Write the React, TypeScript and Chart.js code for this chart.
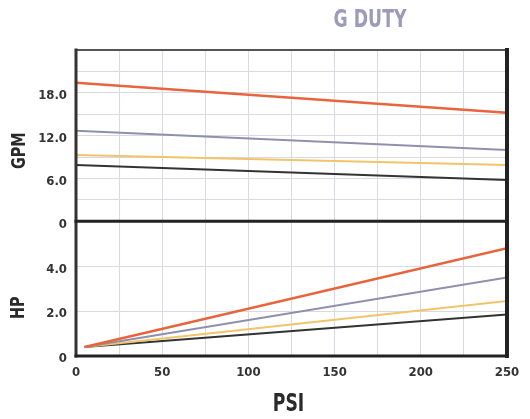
import React, { useEffect, useRef } from "react";
import { Chart, registerables } from "chart.js";

Chart.register(...registerables);

const psiFlow = [0, 250];
const psiPower = [5, 250];

const gpmOrange = [19.4, 15.2];
const gpmBlue = [12.7, 10.0];
const gpmYellow = [9.3, 7.9];
const gpmBlack = [7.9, 5.8];

const hpOrange = [0.4, 4.8];
const hpBlue = [0.4, 3.5];
const hpYellow = [0.4, 2.45];
const hpBlack = [0.4, 1.85];

const gpmTickLabels = ["0", "6.0", "12.0", "18.0"];
const hpTickLabels = ["0", "2.0", "4.0"];
const psiTickLabels = ["0", "50", "100", "150", "200", "250"];

const titleText = "G DUTY";
const FONT = "'Liberation Sans Narrow', 'DejaVu Sans Condensed', 'Arial Narrow', sans-serif";

const COLORS = {
  orange: "#e8643c",
  blue: "#8e90ae",
  yellow: "#f2c46a",
  black: "#333333",
};

const pts = (xs: number[], ys: number[]) => xs.map((x, i) => ({ x, y: ys[i] }));

export default function App() {
  const ref = useRef<HTMLCanvasElement | null>(null);

  useEffect(() => {
    if (!ref.current) return;

    const drawCondensed = (
      ctx: CanvasRenderingContext2D,
      text: string,
      x: number,
      y: number,
      size: number,
      color: string,
      rotate: boolean,
      squeeze: number
    ) => {
      ctx.save();
      ctx.fillStyle = color;
      ctx.font = `bold ${size}px ${FONT}`;
      ctx.textAlign = "center";
      ctx.textBaseline = "middle";
      ctx.translate(x, y);
      if (rotate) ctx.rotate(-Math.PI / 2);
      ctx.scale(squeeze, 1);
      ctx.fillText(text, 0, 0);
      ctx.restore();
    };

    const framePlugin = {
      id: "frameAndTitles",
      afterDatasetsDraw(chart: any) {
        const { ctx, chartArea } = chart;
        const gpm = chart.scales.gpm;
        const { left, right, top, bottom } = chartArea;
        ctx.save();
        ctx.lineCap = "square";
        const line = (x1: number, y1: number, x2: number, y2: number, w: number, c: string) => {
          ctx.beginPath();
          ctx.lineWidth = w;
          ctx.strokeStyle = c;
          ctx.moveTo(x1, y1);
          ctx.lineTo(x2, y2);
          ctx.stroke();
        };
        line(left, top, right, top, 2, "#555555");
        line(left, top, left, bottom, 3, "#333333");
        line(right, top, right, bottom, 4, "#222222");
        line(left, bottom, right, bottom, 3, "#222222");
        line(left, gpm.bottom, right, gpm.bottom, 3, "#222222");
        ctx.restore();
      },
      afterDraw(chart: any) {
        const { ctx, chartArea } = chart;
        const gpm = chart.scales.gpm;
        const hp = chart.scales.hp;
        drawCondensed(ctx, titleText, 370, 21, 24, "#9c9cba", false, 0.8);
        drawCondensed(ctx, "GPM", 20, gpm.getPixelForValue(9.9), 20, "#2a2a2a", true, 0.8);
        drawCondensed(ctx, "HP", 19, hp.getPixelForValue(2.15), 20, "#2a2a2a", true, 0.8);
        drawCondensed(ctx, "PSI", (chartArea.left + chartArea.right) / 2 - 3, 405, 24, "#2a2a2a", false, 0.8);
      },
    };

    const tickFont = { family: FONT, size: 13, weight: "bold" as const };

    const chart = new Chart(ref.current, {
      type: "line",
      data: {
        datasets: [
          { label: "gpm1", data: pts(psiFlow, gpmOrange), borderColor: COLORS.orange, borderWidth: 2.5, yAxisID: "gpm" },
          { label: "gpm2", data: pts(psiFlow, gpmBlue), borderColor: COLORS.blue, borderWidth: 2, yAxisID: "gpm" },
          { label: "gpm3", data: pts(psiFlow, gpmYellow), borderColor: COLORS.yellow, borderWidth: 2, yAxisID: "gpm" },
          { label: "gpm4", data: pts(psiFlow, gpmBlack), borderColor: COLORS.black, borderWidth: 2, yAxisID: "gpm" },
          { label: "hp1", data: pts(psiPower, hpOrange), borderColor: COLORS.orange, borderWidth: 2.5, yAxisID: "hp" },
          { label: "hp2", data: pts(psiPower, hpBlue), borderColor: COLORS.blue, borderWidth: 2, yAxisID: "hp" },
          { label: "hp3", data: pts(psiPower, hpYellow), borderColor: COLORS.yellow, borderWidth: 2, yAxisID: "hp" },
          { label: "hp4", data: pts(psiPower, hpBlack), borderColor: COLORS.black, borderWidth: 2, yAxisID: "hp" },
        ],
      },
      options: {
        animation: false,
        responsive: true,
        maintainAspectRatio: false,
        elements: { point: { radius: 0 }, line: { tension: 0 } },
        layout: { padding: { top: 50, right: 23, left: 0, bottom: 0 } },
        plugins: { legend: { display: false }, tooltip: { enabled: false }, title: { display: false } },
        scales: {
          x: {
            type: "linear",
            min: 0,
            max: 250,
            afterFit: (s: any) => { s.height = 63; },
            ticks: {
              stepSize: 25,
              autoSkip: false,
              maxRotation: 0,
              padding: 9,
              color: "#333333",
              font: tickFont,
              callback: (v: any) => psiTickLabels.includes(String(v)) ? String(v) : "",
            },
            grid: { color: "#d8d9e3", lineWidth: 1, drawTicks: false },
            border: { display: false },
          },
          gpm: {
            type: "linear",
            position: "left",
            stack: "panels",
            stackWeight: 171.7,
            weight: 1,
            min: 0,
            max: 24,
            afterFit: (s: any) => { s.width = 76; },
            ticks: {
              stepSize: 3,
              autoSkip: false,
              padding: 9,
              labelOffset: 3,
              color: "#333333",
              font: tickFont,
              callback: (v: any) => {
                const s = v === 0 ? "0" : Number(v).toFixed(1);
                return gpmTickLabels.includes(s) ? s : "";
              },
            },
            grid: { color: "#d8d9e3", lineWidth: 1, drawTicks: false },
            border: { display: false },
          },
          hp: {
            type: "linear",
            position: "left",
            stack: "panels",
            stackWeight: 135,
            weight: 0,
            min: 0,
            max: 6,
            afterFit: (s: any) => { s.width = 76; },
            ticks: {
              stepSize: 2,
              autoSkip: false,
              padding: 9,
              labelOffset: 3,
              color: "#333333",
              font: tickFont,
              callback: (v: any) => {
                const s = v === 0 ? "0" : Number(v).toFixed(1);
                return hpTickLabels.includes(s) ? s : "";
              },
            },
            grid: { color: "#d8d9e3", lineWidth: 1, drawTicks: false },
            border: { display: false },
          },
        },
      } as any,
      plugins: [framePlugin],
    });

    return () => chart.destroy();
  }, []);

  return (
    <div style={{ position: "absolute", left: 0, top: 0, width: 530, height: 419, background: "#ffffff" }}>
      <canvas ref={ref} />
    </div>
  );
}
